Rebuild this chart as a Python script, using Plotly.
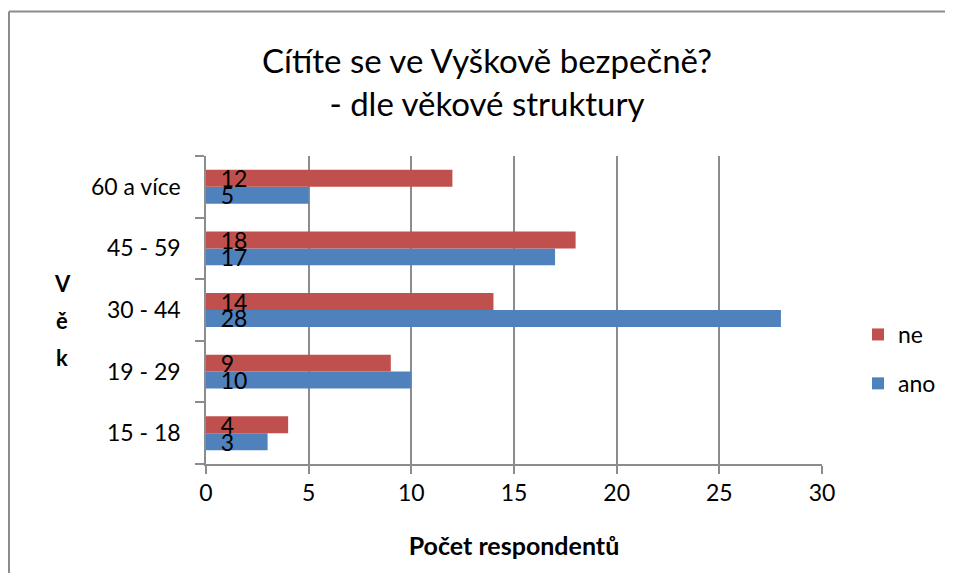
import plotly.graph_objects as go

categories = ["15 - 18", "19 - 29", "30 - 44", "45 - 59", "60 a více"]
ano = [3, 10, 28, 17, 5]
ne = [4, 9, 14, 18, 12]
x_ticks = [0, 5, 10, 15, 20, 25, 30]

FONT = "Lato, Liberation Sans, Arial, sans-serif"
RED = "#C0504D"
BLUE = "#4F81BD"
GRID = "#8C8C8C"
PAD = "\u00a0\u00a0"  # inside-base label padding

OFF = 8  # page body margin
VW, VH = 953, 581  # viewport
W, H = VW - 2 * OFF, VH - 2 * OFF  # figure fits without scrolling
L, R, T, B = 206 - OFF, W - (822 - OFF), 156 - OFF, H - (464 - OFF)
pw = W - L - R
ph = H - T - B


def px_x(x):
    return (x - OFF - L) / pw


def px_y(y):
    return (H - B - (y - OFF)) / ph


fig = go.Figure()
fig.add_trace(go.Bar(
    name="ano", legendgroup="ano", legendrank=2, y=categories, x=ano, orientation="h",
    marker=dict(color=BLUE, line=dict(width=0)),
    text=[PAD + str(v) for v in ano], textposition="inside",
    insidetextanchor="start", textangle=0, constraintext="none",
    textfont=dict(family=FONT, size=23, color="black"),
    hoverinfo="skip",
))
fig.add_trace(go.Bar(
    name="ne", legendgroup="ne", legendrank=1, y=categories, x=ne, orientation="h",
    marker=dict(color=RED, line=dict(width=0)),
    text=[PAD + str(v) for v in ne], textposition="inside",
    insidetextanchor="start", textangle=0, constraintext="none",
    textfont=dict(family=FONT, size=23, color="black"),
    hoverinfo="skip",
))

fig.update_layout(
    width=W, height=H,
    margin=dict(l=L, r=R, t=T, b=B, pad=0, autoexpand=False),
    paper_bgcolor="white", plot_bgcolor="white",
    barmode="group", bargap=0.45, bargroupgap=0,
    font=dict(family=FONT, size=23, color="black"),
    showlegend=True,
    legend=dict(
        traceorder="grouped", x=px_x(858), y=px_y(313),
        xanchor="left", yanchor="top", font=dict(size=23),
        itemwidth=30, tracegroupgap=16, bgcolor="rgba(0,0,0,0)",
    ),
    title=dict(
        text="Cítíte se ve Vyškově bezpečně?<br>- dle věkové struktury",
        x=(487 - OFF) / W, xanchor="center", y=1 - (73 - OFF) / H, yanchor="middle",
        font=dict(family=FONT, size=33, color="black"),
    ),
    xaxis=dict(
        range=[0, 30], tickvals=x_ticks, ticktext=[str(v) for v in x_ticks],
        showgrid=True, gridcolor=GRID, gridwidth=1.5,
        showline=True, linecolor=GRID, linewidth=1.5,
        ticks="outside", ticklen=8, tickcolor=GRID, tickwidth=1.5,
        tickfont=dict(size=23), zeroline=False, automargin=False,
        ticklabelstandoff=0,
        title=dict(text="<b>Počet respondentů</b>", font=dict(size=25), standoff=32),
        fixedrange=True,
    ),
    yaxis=dict(
        showgrid=False, showline=True, linecolor=GRID, linewidth=1.5,
        ticks="outside", ticklen=9, tickcolor=GRID, tickwidth=1.5,
        tickson="boundaries", tickfont=dict(size=23), ticklabelstandoff=19,
        automargin=False, fixedrange=True,
    ),
    shapes=[
        dict(type="line", xref="paper", yref="paper",
             x0=px_x(OFF + 1), x1=px_x(VW + 20), y0=px_y(11.5), y1=px_y(11.5),
             line=dict(color=GRID, width=2), layer="below"),
        dict(type="line", xref="paper", yref="paper",
             x0=px_x(OFF + 1), x1=px_x(OFF + 1), y0=px_y(11.5), y1=px_y(VH + 20),
             line=dict(color=GRID, width=2), layer="below"),
    ],
    annotations=[
        dict(text="<b>%s</b>" % ch, xref="paper", yref="paper",
             x=px_x(62), y=px_y(yy), xanchor="center", yanchor="middle",
             showarrow=False, font=dict(size=22, color="black"))
        for ch, yy in [("V", 283), ("ě", 320), ("k", 357)]
    ],
)

fig.write_html("out.html")
